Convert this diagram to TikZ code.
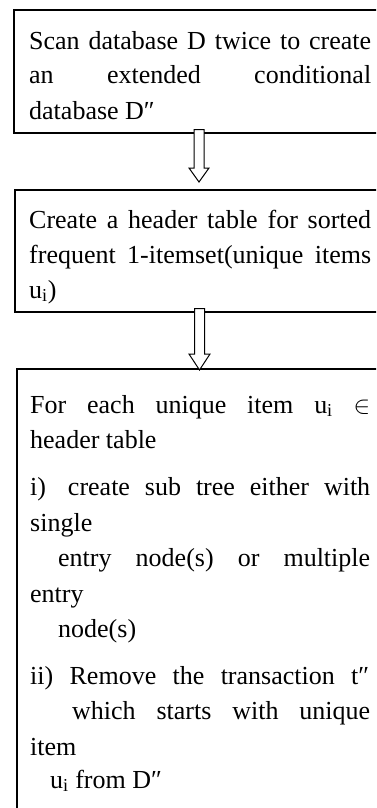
\documentclass[tikz,border=0pt]{standalone}
\usepackage{fontspec}
\setmainfont{Liberation Serif}
\begin{document}
\begin{tikzpicture}[x=1pt,y=-1pt,
  box/.style={draw, line width=2pt, inner sep=0pt, anchor=north west},
  txt/.style={anchor=base west, inner sep=0pt, font=\fontsize{26}{30}\selectfont},
  harrow/.style={draw, line width=1pt, fill=white, line join=miter}]
\useasboundingbox (0,0) rectangle (376,808);
\clip (0,0) rectangle (376,808);
% boxes (their right sides lie outside the picture)
\node[box, minimum width=380pt, minimum height=123pt] (b1) at (13,9) {};
\node[box, minimum width=380pt, minimum height=122.5pt] (b2) at (13.5,188.5) {};
\node[box, minimum width=380pt, minimum height=460pt] (b3) at (15.5,367.5) {};
% box 1 text
\node[txt] (t11) at (29,49) {\makebox[342pt][s]{Scan database D twice to create}};
\node[txt] (t12) at (29,84) {\makebox[342pt][s]{an extended conditional}};
\node[txt] (t13) at (29,119) {database D″};
% box 2 text
\node[txt] (t21) at (29,228) {\makebox[342pt][s]{Create a header table for sorted}};
\node[txt] (t22) at (29,263) {\makebox[342pt][s]{frequent 1-itemset(unique items}};
\node[txt] (t23) at (29,298) {u\textsubscript{i})};
% box 3 text
\node[txt] (t31) at (30,413) {\makebox[340pt][s]{For each unique item u\textsubscript{i} $\in$}};
\node[txt] (t32) at (30,448.5) {header table};
\node[txt] (t33) at (30,495) {\makebox[340pt][s]{i)\hspace{7pt} create sub tree either with}};
\node[txt] (t34) at (30,531) {single};
\node[txt] (t35) at (58,566) {\makebox[312pt][s]{entry node(s) or multiple}};
\node[txt] (t36) at (30,602) {entry};
\node[txt] (t37) at (58,637) {node(s)};
\node[txt] (t38) at (30,684) {\makebox[339pt][s]{ii) Remove the transaction t″}};
\node[txt] (t39) at (72,719) {\makebox[298pt][s]{which starts with unique}};
\node[txt] (t310) at (30,755) {item};
\node[txt] (t311) at (50,788) {u\textsubscript{i} from D″};
% hollow arrows between the boxes
\coordinate (a1t) at (199,129.5);
\coordinate (a1h) at (199,182);
\draw[harrow] (a1t) ++(-5,0) -- ++(0,38.5) -- ++(-5,0) -- (a1h) -- ++(10,-14) -- ++(-5,0) -- ++(0,-38.5) -- cycle;
\coordinate (a2t) at (199.5,308.5);
\coordinate (a2h) at (199.5,370);
\draw[harrow] (a2t) ++(-5,0) -- ++(0,45.5) -- ++(-5.5,0) -- (a2h) -- ++(10.5,-16) -- ++(-5.5,0) -- ++(0,-45.5) -- cycle;
\end{tikzpicture}
\end{document}
